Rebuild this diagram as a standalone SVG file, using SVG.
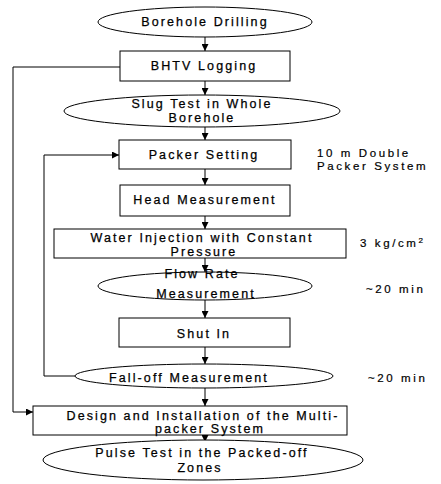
<svg xmlns="http://www.w3.org/2000/svg" width="441" height="484" viewBox="0 0 441 484">
<defs>
<style>
.n{fill:#fff;stroke:#000;stroke-width:1}
.t{font-family:"Liberation Sans",Arial,sans-serif;font-size:12.5px;letter-spacing:2.1px;fill:#000;stroke:#000;stroke-width:0.25;text-anchor:middle}
.a{font-family:"Liberation Sans",Arial,sans-serif;font-size:11.5px;letter-spacing:2.6px;fill:#000;stroke:#000;stroke-width:0.2}
.c{fill:none;stroke:#000;stroke-width:1}
</style>
<marker id="ah" markerUnits="userSpaceOnUse" markerWidth="7" markerHeight="7" refX="7" refY="3.5" orient="auto">
<path d="M0,0 L7,3.5 L0,7 z" fill="#000"/>
</marker>
</defs>
<rect width="441" height="484" fill="#fff"/>
<g id="connectors">
<line class="c" x1="205" y1="37" x2="205" y2="51" marker-end="url(#ah)"/>
<line class="c" x1="205" y1="81" x2="205" y2="95" marker-end="url(#ah)"/>
<line class="c" x1="205" y1="127" x2="205" y2="140" marker-end="url(#ah)"/>
<line class="c" x1="205" y1="169" x2="205" y2="185" marker-end="url(#ah)"/>
<line class="c" x1="205" y1="216" x2="205" y2="229" marker-end="url(#ah)"/>
<line class="c" x1="205" y1="258" x2="205" y2="272" marker-end="url(#ah)"/>
<line class="c" x1="205" y1="300" x2="205" y2="318" marker-end="url(#ah)"/>
<line class="c" x1="205" y1="347" x2="205" y2="364" marker-end="url(#ah)"/>
<line class="c" x1="205" y1="388" x2="205" y2="406" marker-end="url(#ah)"/>
<line class="c" x1="205" y1="435" x2="205" y2="442" marker-end="url(#ah)"/>
<polyline class="c" points="120,67 13,67 13,412 33,412" marker-end="url(#ah)"/>
<polyline class="c" points="75,376 44,376 44,155 119,155" marker-end="url(#ah)"/>
</g>
<g id="borehole-drilling">
<ellipse class="n" cx="205" cy="22" rx="107" ry="15"/>
<text class="t" x="205" y="26">Borehole Drilling</text>
</g>
<g id="bhtv-logging">
<rect class="n" x="120" y="51" width="170" height="30"/>
<text class="t" x="204" y="70">BHTV Logging</text>
</g>
<g id="slug-test">
<ellipse class="n" cx="202" cy="111" rx="138" ry="16"/>
<text class="t" x="202" y="108">Slug Test in Whole</text>
<text class="t" x="202" y="122">Borehole</text>
</g>
<g id="packer-setting">
<rect class="n" x="119" y="140" width="172" height="29"/>
<text class="t" x="204" y="159">Packer Setting</text>
</g>
<g id="head-measurement">
<rect class="n" x="120" y="185" width="170" height="31"/>
<text class="t" x="205" y="204">Head Measurement</text>
</g>
<g id="water-injection">
<rect class="n" x="54" y="229" width="292" height="29"/>
<text class="t" x="202" y="242">Water Injection with Constant</text>
<text class="t" x="204" y="256">Pressure</text>
</g>
<g id="flow-rate">
<ellipse class="n" cx="205" cy="286" rx="107" ry="14"/>
<text class="t" x="202" y="278">Flow Rate</text>
<text class="t" x="206" y="298">Measurement</text>
</g>
<g id="shut-in">
<rect class="n" x="119" y="318" width="171" height="29"/>
<text class="t" x="204" y="338">Shut In</text>
</g>
<g id="fall-off">
<ellipse class="n" cx="204" cy="376" rx="129" ry="12"/>
<text class="t" x="189" y="382">Fall-off Measurement</text>
</g>
<g id="design-installation">
<rect class="n" x="33" y="406" width="314" height="29"/>
<text class="t" x="203" y="420">Design and Installation of the Multi-</text>
<text class="t" x="210" y="433">packer System</text>
</g>
<g id="pulse-test">
<ellipse class="n" cx="203" cy="460" rx="160" ry="20"/>
<text class="t" x="202" y="457">Pulse Test in the Packed-off</text>
<text class="t" x="200" y="472">Zones</text>
</g>
<g id="annotations">
<text class="a" x="317" y="157">10 m Double</text>
<text class="a" x="317" y="170">Packer System</text>
<text class="a" x="360" y="247">3 kg/cm<tspan font-size="8" dy="-4">2</tspan></text>
<text class="a" x="366" y="293">~20 min</text>
<text class="a" x="368" y="382">~20 min</text>
</g>
</svg>
